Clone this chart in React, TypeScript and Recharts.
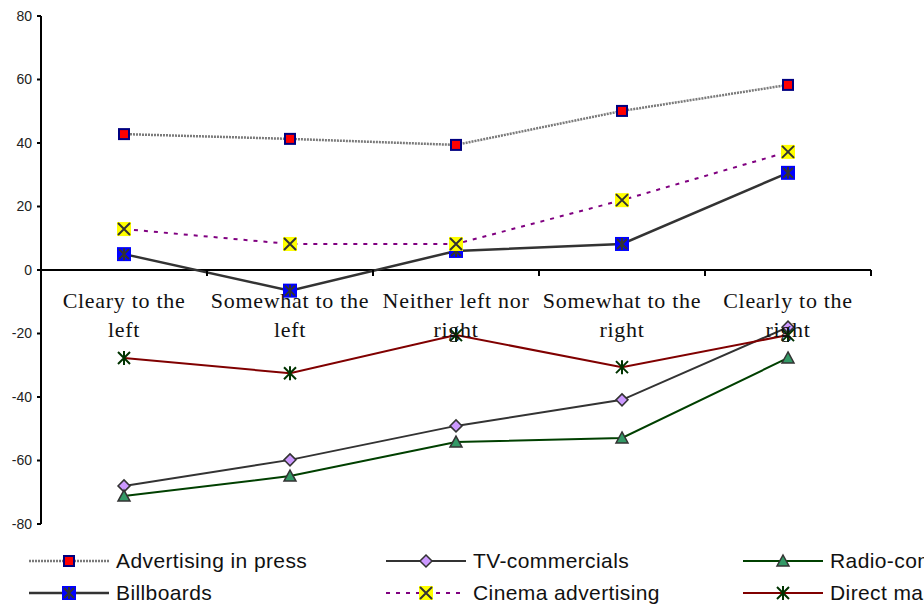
import { LineChart, Line, XAxis, YAxis, ReferenceLine } from "recharts";

const categories = [
  "Cleary to the left",
  "Somewhat to the left",
  "Neither left nor right",
  "Somewhat to the right",
  "Clearly to the right",
];
const press = [42.8, 41.3, 39.4, 50.1, 58.3];
const tv = [-68, -59.8, -49.1, -40.9, -18];
const radio = [-71.2, -64.9, -54.2, -52.9, -27.7];
const billboards = [5, -6.5, 6, 8.2, 30.6];
const cinema = [12.9, 8.2, 8.2, 22, 37.2];
const directMail = [-27.7, -32.5, -20.5, -30.6, -20.5];
const yTicks = [-80, -60, -40, -20, 0, 20, 40, 60, 80];

const Y_MIN = -80;
const Y_MAX = 80;
const PLOT_TOP = 16;
const PLOT_H = 508;
const HALF_BAND = 83;
const zeroY = PLOT_TOP + (PLOT_H * Y_MAX) / (Y_MAX - Y_MIN);

const data = categories.map((cat, i) => ({
  cat,
  press: press[i],
  tv: tv[i],
  radio: radio[i],
  billboards: billboards[i],
  cinema: cinema[i],
  directMail: directMail[i],
}));

type Kind = "press" | "tv" | "radio" | "billboards" | "cinema" | "directMail";

function marker(kind: Kind, cx: number, cy: number, key?: any) {
  switch (kind) {
    case "press":
      return (
        <rect key={key} x={cx - 5} y={cy - 5} width={10} height={10} fill="#FF0000" stroke="#000080" strokeWidth={2} />
      );
    case "tv":
      return (
        <path
          key={key}
          d={`M${cx},${cy - 6}L${cx + 6},${cy}L${cx},${cy + 6}L${cx - 6},${cy}Z`}
          fill="#CC99FF"
          stroke="#333"
          strokeWidth={1.5}
        />
      );
    case "radio":
      return (
        <path
          key={key}
          d={`M${cx},${cy - 6}L${cx + 6},${cy + 5}L${cx - 6},${cy + 5}Z`}
          fill="#339966"
          stroke="#333"
          strokeWidth={1.5}
        />
      );
    case "billboards":
      return (
        <g key={key}>
          <rect x={cx - 7} y={cy - 7} width={14} height={14} fill="#0000FF" />
          <path
            d={`M${cx - 5},${cy - 5}L${cx + 5},${cy + 5}M${cx + 5},${cy - 5}L${cx - 5},${cy + 5}M${cx},${cy - 6}L${cx},${cy + 6}`}
            stroke="#333"
            strokeWidth={2}
          />
        </g>
      );
    case "cinema":
      return (
        <g key={key}>
          <rect x={cx - 7} y={cy - 7} width={14} height={14} fill="#FFFF00" />
          <path
            d={`M${cx - 6},${cy - 6}L${cx + 6},${cy + 6}M${cx + 6},${cy - 6}L${cx - 6},${cy + 6}`}
            stroke="#333"
            strokeWidth={2}
          />
        </g>
      );
    default:
      return (
        <path
          key={key}
          d={`M${cx - 6},${cy - 6}L${cx + 6},${cy + 6}M${cx + 6},${cy - 6}L${cx - 6},${cy + 6}M${cx},${cy - 7}L${cx},${cy + 7}`}
          stroke="#003300"
          strokeWidth={2}
        />
      );
  }
}

const dot = (kind: Kind) => (p: any) => marker(kind, p.cx, p.cy, p.index);

const series: { key: Kind; name: string; stroke: string; width: number; dash?: string }[] = [
  { key: "press", name: "Advertising in press", stroke: "#7a7a7a", width: 2.5, dash: "2 1" },
  { key: "tv", name: "TV-commercials", stroke: "#333333", width: 2 },
  { key: "radio", name: "Radio-commercials", stroke: "#004000", width: 2 },
  { key: "billboards", name: "Billboards", stroke: "#333333", width: 2.5 },
  { key: "cinema", name: "Cinema advertising", stroke: "#800080", width: 2, dash: "4 6" },
  { key: "directMail", name: "Direct mail", stroke: "#800000", width: 2 },
];

function CategoryTick(props: any) {
  const { x, payload, index } = props;
  const label: string = payload.value;
  const cut = label.lastIndexOf(" ");
  const line1 = label.slice(0, cut);
  const line2 = label.slice(cut + 1);
  return (
    <g>
      <line x1={x - HALF_BAND} y1={zeroY} x2={x - HALF_BAND} y2={zeroY + 6} stroke="#000" strokeWidth={2} />
      {index === categories.length - 1 && (
        <line x1={x + HALF_BAND} y1={zeroY} x2={x + HALF_BAND} y2={zeroY + 6} stroke="#000" strokeWidth={2} />
      )}
      <text
        textAnchor="middle"
        fontFamily="'Liberation Serif', 'Times New Roman', serif"
        fontSize={22}
        letterSpacing={0.7}
        fill="#111"
      >
        <tspan x={x} y={zeroY + 38}>
          {line1}
        </tspan>
        <tspan x={x} y={zeroY + 67}>
          {line2}
        </tspan>
      </text>
    </g>
  );
}

const legendCols = [29, 386, 743];

function LegendBox() {
  return (
    <svg width={924} height={68} style={{ position: "absolute", left: 0, top: 540, overflow: "hidden" }}>
      {series.map((s, i) => {
        const col = i % 3;
        const row = Math.floor(i / 3);
        const x0 = legendCols[col];
        const y = row === 0 ? 21 : 53;
        return (
          <g key={s.key}>
            <line x1={x0} y1={y} x2={x0 + 80} y2={y} stroke={s.stroke} strokeWidth={s.width} strokeDasharray={s.dash} />
            {marker(s.key, x0 + 40, y)}
            <text
              x={x0 + 87}
              y={y + 7}
              fontFamily="'Liberation Sans', Arial, sans-serif"
              fontSize={21}
              letterSpacing={0.4}
              fill="#111"
            >
              {s.name}
            </text>
          </g>
        );
      })}
    </svg>
  );
}

export default function App() {
  return (
    <div style={{ position: "absolute", left: 0, top: 0, width: 924, height: 608, background: "#fff" }}>
      <LineChart width={924} height={540} data={data} margin={{ top: 16, right: 53, bottom: 0, left: 0 }}>
        <XAxis
          dataKey="cat"
          height={16}
          axisLine={false}
          tickLine={false}
          padding={{ left: HALF_BAND, right: HALF_BAND }}
          tick={<CategoryTick />}
          interval={0}
        />
        <YAxis
          width={41}
          domain={[Y_MIN, Y_MAX]}
          ticks={yTicks}
          interval={0}
          axisLine={{ stroke: "#000", strokeWidth: 2 }}
          tickLine={{ stroke: "#000", strokeWidth: 2 }}
          tickSize={4}
          tickMargin={5}
          tick={{ fontFamily: "'Liberation Sans', Arial, sans-serif", fontSize: 14, fill: "#222" }}
        />
        <ReferenceLine y={0} stroke="#000" strokeWidth={2} />
        {series.map((s) => (
          <Line
            key={s.key}
            dataKey={s.key}
            name={s.name}
            type="linear"
            stroke={s.stroke}
            strokeWidth={s.width}
            strokeDasharray={s.dash}
            dot={dot(s.key)}
            activeDot={false}
            isAnimationActive={false}
          />
        ))}
      </LineChart>
      <LegendBox />
    </div>
  );
}
